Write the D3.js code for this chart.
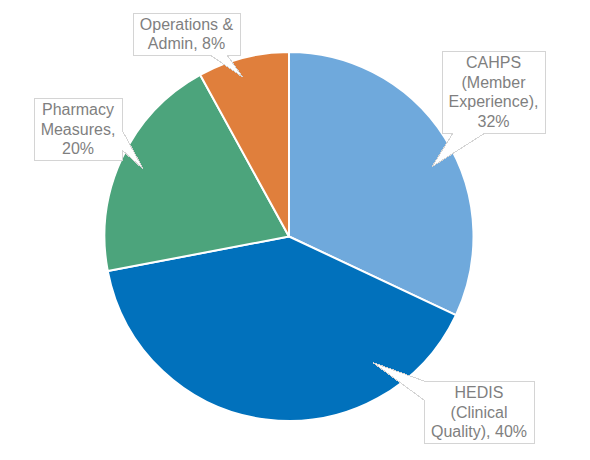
<!DOCTYPE html>
<html><head><meta charset="utf-8">
<script src="https://cdn.jsdelivr.net/npm/d3@7"></script>
<style>html,body{margin:0;padding:0;background:#fff;}svg{display:block;}</style>
</head><body>
<svg id="chart" width="590" height="460"></svg>
<script>
const categories = ["CAHPS (Member Experience)", "HEDIS (Clinical Quality)", "Pharmacy Measures", "Operations & Admin"];
const shares = [32, 40, 20, 8];
const labelLines = [
  ["CAHPS", "(Member", "Experience),", "32%"],
  ["HEDIS", "(Clinical", "Quality), 40%"],
  ["Pharmacy", "Measures,", "20%"],
  ["Operations &", "Admin, 8%"]
];
const colors = ["#6FA9DC", "#0171BC", "#4CA47C", "#E07F3C"];

const svg = d3.select("#chart");
const cx = 289, cy = 236.5, R = 184.5;
const g = svg.append("g").attr("transform", `translate(${cx},${cy})`);

const pie = d3.pie().sort(null).value(d => d);
const arcs = pie(shares);
const arc = d3.arc().innerRadius(0).outerRadius(R);

g.selectAll("path.slice").data(arcs).enter().append("path")
  .attr("class", "slice")
  .attr("d", arc)
  .attr("fill", (d, i) => colors[i])
  .attr("stroke", "#fff")
  .attr("stroke-width", 2)
  .attr("stroke-linejoin", "round");

// callout layout: box (absolute), pointer side & base, tip in polar (deg from top, radius fraction)
const callouts = [
  {box: [442, 51, 545, 133], side: "bottom", base: [453, 485], tip: [64, 0.862]},
  {box: [424, 381, 534, 443], side: "left", base: [381, 400], tip: [146.4, 0.82]},
  {box: [34, 98, 122, 160], side: "right", base: [130, 150], tip: [294.8, 0.87]},
  {box: [133, 13, 240, 55], side: "bottom", base: [210, 227], tip: [343.8, 0.9]}
];
const rScale = d3.scaleLinear().domain([0, 1]).range([0, R]);

callouts.forEach((c, i) => {
  const a = c.tip[0] * Math.PI / 180, rr = rScale(c.tip[1]);
  const tx = cx + rr * Math.sin(a), ty = cy - rr * Math.cos(a);
  const [x0, y0, x1, y1] = c.box;
  const p = d3.path();
  if (c.side === "bottom") {
    p.moveTo(x0, y0); p.lineTo(x1, y0); p.lineTo(x1, y1);
    p.lineTo(c.base[1], y1); p.lineTo(tx, ty); p.lineTo(c.base[0], y1);
    p.lineTo(x0, y1); p.closePath();
  } else if (c.side === "left") {
    p.moveTo(x0, y0); p.lineTo(x1, y0); p.lineTo(x1, y1); p.lineTo(x0, y1);
    p.lineTo(x0, c.base[1]); p.lineTo(tx, ty); p.lineTo(x0, c.base[0]); p.closePath();
  } else if (c.side === "right") {
    p.moveTo(x0, y0); p.lineTo(x1, y0); p.lineTo(x1, c.base[0]); p.lineTo(tx, ty);
    p.lineTo(x1, c.base[1]); p.lineTo(x1, y1); p.lineTo(x0, y1); p.closePath();
  }
  svg.append("path").attr("d", p.toString())
    .attr("fill", "#fff").attr("stroke", "#D4D4D4").attr("stroke-width", 1)
    .attr("shape-rendering", "crispEdges");
  const lines = labelLines[i];
  const lh = 19.5;
  const mx = (x0 + x1) / 2, my = (y0 + y1) / 2;
  const t = svg.append("text")
    .attr("font-family", "Liberation Sans, Arial, sans-serif")
    .attr("font-size", 16)
    .attr("fill", "#7F7F7F")
    .attr("text-anchor", "middle");
  lines.forEach((ln, j) => {
    t.append("tspan").attr("x", mx)
      .attr("y", my + (j - (lines.length - 1) / 2) * lh)
      .attr("dy", "0.35em")
      .text(ln);
  });
});
</script>
</body></html>
